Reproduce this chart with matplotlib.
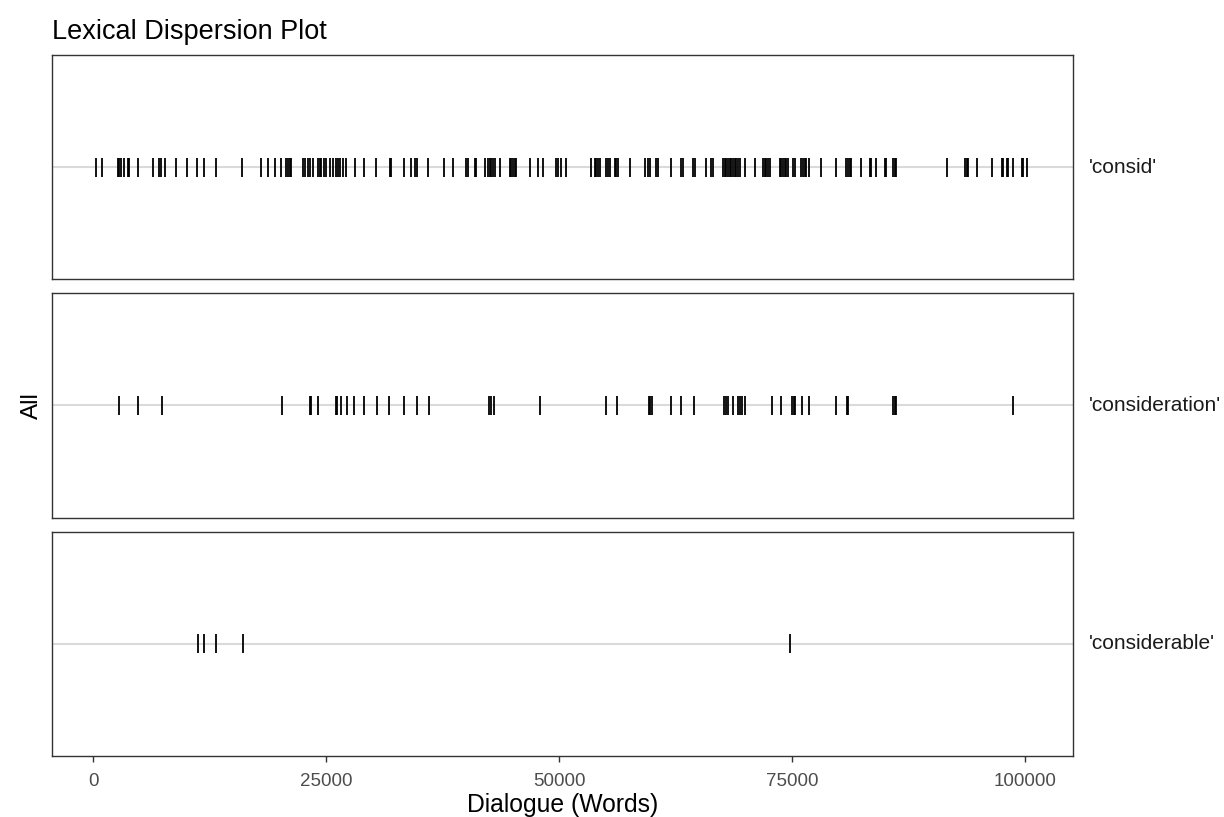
import matplotlib
matplotlib.use("Agg")
import matplotlib.pyplot as plt

plt.rcParams['font.family'] = ['Liberation Sans', 'DejaVu Sans']

# word offsets where each term occurs in the dialogue
consid = [333, 976, 2650, 2833, 3015, 3369, 3723, 3906, 4796, 6406, 7125, 7307,
          7769, 8917, 10054, 11127, 11953, 13134, 15998, 18037, 18745, 19464,
          20183, 20720, 20891, 21074, 21256, 22501, 22683, 23037, 23220, 23574,
          24110, 24293, 24475, 24722, 25012, 25366, 25720, 26010, 26256, 26514,
          26793, 27158, 28048, 29046, 30377, 31804, 31986, 33306, 34132, 34486,
          34733, 35913, 37598, 38596, 39959, 40205, 40924, 41107, 41997, 42351,
          42534, 42716, 42888, 43070, 43607, 44680, 44862, 45034, 45216, 45399,
          46826, 47716, 48253, 49691, 49862, 50227, 50764, 53446, 53800, 53983,
          54154, 54337, 55056, 55227, 55410, 55946, 56129, 56300, 57556, 59165,
          59519, 59702, 60421, 60592, 62030, 63103, 63275, 64348, 64530, 65786,
          66322, 66494, 67567, 67749, 67932, 68103, 68286, 68468, 68640, 68822,
          69005, 69176, 69359, 69895, 70968, 71859, 72041, 72224, 72395, 72578,
          73651, 73833, 74005, 74187, 74370, 74541, 75078, 75260, 75979, 76151,
          76333, 76516, 76768, 78125, 79734, 80808, 80979, 81162, 81344, 82417,
          83308, 83490, 84027, 84917, 85100, 85808, 85990, 86173, 91538, 93501,
          93684, 93855, 94757, 96366, 97439, 97611, 97976, 98147, 98684, 99585,
          99757, 100122]
consideration = [2833, 4796, 7372, 20290, 23217, 23400, 24153, 26010, 26192,
                 26546, 27222, 27973, 29046, 30441, 31729, 33306, 34733, 36021,
                 42458, 42641, 42995, 47900, 55056, 56193, 59627, 59777, 59992,
                 62030, 63030, 64455, 67717, 67932, 68103, 68640, 69177, 69360,
                 69650, 69897, 72792, 73832, 74970, 75152, 75335, 76086, 76768,
                 79660, 80873, 80980, 85810, 85992, 86174, 98684]
considerable = [11234, 11953, 13209, 16063, 74800]

words = ["'consid'", "'consideration'", "'considerable'"]
hits = [consid, consideration, considerable]

x_ticks = [0, 25000, 50000, 75000, 100000]

fig, axes = plt.subplots(3, 1, figsize=(12.24, 8.17), dpi=100, sharex=True)
fig.subplots_adjust(left=0.0425, right=0.8766, top=0.9327, bottom=0.0747,
                    hspace=0.062)

for ax, word, pos in zip(axes, words, hits):
    ax.axhline(1, color='#dadada', linewidth=1.5, zorder=1)
    ax.vlines(pos, 0.95, 1.05, color='black', linewidth=1.3, zorder=2)
    ax.set_ylim(0.4, 1.6)
    ax.set_xlim(-4400, 105100)
    ax.set_yticks([])
    for s in ax.spines.values():
        s.set_color('#333333')
        s.set_linewidth(1.0)
    ax.text(1.016, 0.5, word, transform=ax.transAxes, ha='left', va='center',
            fontsize=15, color='#1a1a1a')
    ax.tick_params(axis='x', length=4.5, width=1.0, color='#333333',
                   labelsize=13.5, labelcolor='#4d4d4d', pad=8)

for ax in axes[:-1]:
    ax.tick_params(axis='x', bottom=False, labelbottom=False)

axes[-1].set_xticks(x_ticks)
axes[-1].set_xticklabels([str(t) for t in x_ticks])
axes[-1].set_xlabel('Dialogue (Words)', fontsize=17.8, labelpad=2)

fig.text(0.0425, 0.945, 'Lexical Dispersion Plot', fontsize=19.5,
         ha='left', va='bottom')
fig.text(0.026, (0.9327 + 0.0747) / 2, 'All', rotation=90, fontsize=17.5,
         ha='center', va='center')

fig.savefig('out.png', dpi=100)
